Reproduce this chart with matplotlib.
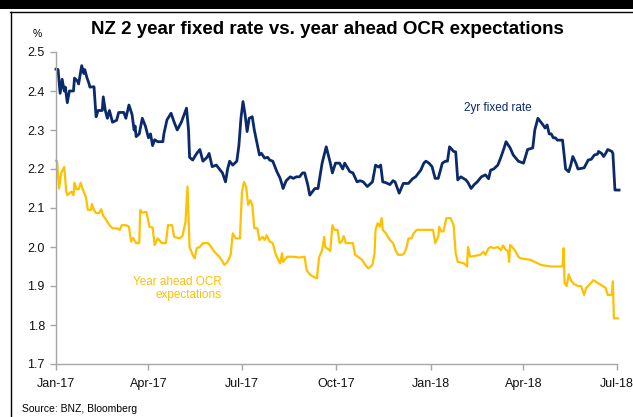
import numpy as np
import pandas as pd
import matplotlib
matplotlib.use("Agg")
import matplotlib.pyplot as plt
from matplotlib.lines import Line2D
from matplotlib.patches import Rectangle

plt.rcParams['font.family'] = ['Liberation Sans', 'DejaVu Sans']

# days since 1 Jan 2017
start = pd.Timestamp("2017-01-01")

fixed_days = [0, 2, 4, 6, 8, 9, 11, 13, 17, 18, 21, 22, 25, 27, 28, 30, 32, 33, 37, 39,
              41, 45, 46, 48, 50, 52, 55, 59, 61, 66, 68, 71, 74, 76, 77, 78, 81, 84, 87, 90,
              92, 94, 96, 99, 101, 104, 105, 108, 112, 115, 118, 122, 127, 129, 130, 133, 137, 140, 143, 147,
              149, 152, 156, 159, 162, 165, 167, 169, 172, 176, 178, 180, 182, 184, 186, 188, 191, 193, 195, 198,
              200, 203, 206, 208, 211, 215, 218, 220, 221, 224, 228, 231, 234, 237, 240, 242, 245, 247, 249, 252,
              255, 259, 263, 267, 269, 272, 276, 279, 281, 286, 289, 293, 296, 299, 303, 308, 311, 314, 316, 318,
              321, 325, 328, 330, 334, 338, 343, 347, 350, 355, 358, 360, 363, 366, 369, 372, 376, 379, 381, 383,
              387, 389, 391, 394, 399, 401, 404, 407, 410, 414, 418, 421, 423, 426, 430, 433, 436, 438, 440, 442,
              445, 450, 455, 459, 464, 466, 469, 472, 474, 476, 478, 480, 482, 484, 486, 488, 493, 496, 499, 501,
              503, 506, 508, 514, 518, 521, 524, 527, 528, 531, 533, 535, 537, 541, 542, 544, 548]
fixed_rate = [2.456, 2.455, 2.394, 2.43, 2.40, 2.41, 2.37, 2.40, 2.40, 2.433, 2.425, 2.418, 2.465, 2.445, 2.455, 2.435, 2.42, 2.41, 2.411, 2.334,
              2.35, 2.35, 2.385, 2.35, 2.33, 2.35, 2.32, 2.325, 2.345, 2.345, 2.33, 2.364, 2.34, 2.30, 2.31, 2.283, 2.29, 2.33, 2.31, 2.28,
              2.29, 2.26, 2.275, 2.27, 2.27, 2.27, 2.29, 2.326, 2.343, 2.32, 2.30, 2.32, 2.356, 2.30, 2.23, 2.223, 2.24, 2.25, 2.22, 2.23,
              2.24, 2.206, 2.21, 2.20, 2.19, 2.167, 2.20, 2.22, 2.21, 2.22, 2.26, 2.33, 2.373, 2.34, 2.296, 2.33, 2.334, 2.30, 2.274, 2.236,
              2.24, 2.228, 2.23, 2.223, 2.22, 2.193, 2.177, 2.16, 2.15, 2.17, 2.18, 2.176, 2.18, 2.18, 2.19, 2.19, 2.16, 2.133, 2.14, 2.15,
              2.15, 2.215, 2.257, 2.215, 2.19, 2.215, 2.215, 2.20, 2.215, 2.193, 2.19, 2.167, 2.17, 2.167, 2.155, 2.167, 2.21, 2.205, 2.21, 2.167,
              2.165, 2.16, 2.17, 2.167, 2.138, 2.163, 2.163, 2.175, 2.18, 2.197, 2.215, 2.22, 2.215, 2.206, 2.176, 2.176, 2.215, 2.22, 2.22, 2.257,
              2.245, 2.244, 2.172, 2.18, 2.172, 2.165, 2.15, 2.16, 2.167, 2.18, 2.185, 2.175, 2.197, 2.20, 2.21, 2.23, 2.253, 2.27, 2.262, 2.254,
              2.236, 2.22, 2.215, 2.25, 2.254, 2.30, 2.33, 2.32, 2.313, 2.305, 2.313, 2.29, 2.29, 2.28, 2.28, 2.274, 2.274, 2.20, 2.193, 2.21,
              2.232, 2.215, 2.20, 2.203, 2.223, 2.225, 2.236, 2.238, 2.245, 2.24, 2.232, 2.24, 2.25, 2.245, 2.24, 2.146, 2.146]

ocr_days = [0, 1, 3, 5, 8, 10, 11, 15, 17, 18, 20, 22, 24, 26, 29, 31, 34, 35, 37, 39,
            42, 44, 46, 49, 52, 55, 59, 62, 64, 68, 71, 73, 75, 78, 81, 82, 84, 88, 91, 94,
            96, 99, 103, 107, 109, 113, 115, 120, 123, 126, 128, 130, 133, 135, 137, 140, 143, 148, 151, 154,
            159, 164, 167, 170, 172, 175, 179, 181, 183, 185, 187, 189, 191, 193, 196, 198, 201, 203, 205, 208,
            211, 214, 218, 220, 221, 225, 231, 237, 242, 244, 247, 250, 254, 256, 259, 261, 262, 267, 269, 271,
            274, 276, 278, 280, 282, 289, 291, 294, 298, 301, 304, 308, 310, 311, 313, 315, 317, 318, 321, 325,
            328, 331, 333, 337, 339, 341, 343, 346, 348, 351, 367, 369, 372, 373, 375, 377, 380, 384, 387, 389,
            391, 397, 400, 401, 403, 413, 416, 418, 421, 423, 426, 430, 433, 435, 438, 440, 441, 442, 444, 447,
            450, 452, 462, 469, 472, 482, 493, 494, 495, 497, 499, 501, 504, 508, 511, 514, 516, 519, 523, 526,
            530, 535, 537, 541, 542, 543, 547]
ocr_rate = [2.221, 2.221, 2.15, 2.19, 2.205, 2.142, 2.133, 2.142, 2.133, 2.165, 2.148, 2.148, 2.165, 2.148, 2.129, 2.095, 2.095, 2.11, 2.095, 2.087,
            2.087, 2.097, 2.08, 2.069, 2.056, 2.048, 2.048, 2.044, 2.056, 2.056, 2.052, 2.014, 2.023, 2.01, 2.01, 2.095, 2.088, 2.09, 2.052, 2.05,
            2.005, 2.022, 2.01, 2.01, 2.056, 2.056, 2.026, 2.022, 2.028, 2.064, 2.155, 2.0, 1.98, 1.971, 1.997, 2.0, 2.01, 2.01, 2.0, 1.988,
            1.975, 1.954, 1.962, 1.98, 2.035, 2.022, 2.022, 2.142, 2.167, 2.155, 2.108, 2.12, 2.108, 2.048, 2.048, 2.018, 2.026, 2.018, 2.03, 2.014,
            2.01, 1.98, 1.958, 1.984, 1.962, 1.975, 1.975, 1.973, 1.975, 1.94, 1.93, 1.924, 1.92, 1.973, 1.992, 2.026, 2.0, 1.99, 2.056, 2.044,
            2.044, 2.01, 2.014, 2.028, 2.01, 2.01, 1.98, 1.975, 1.967, 1.954, 1.945, 1.954, 1.984, 2.044, 2.061, 2.052, 2.074, 2.044, 2.035, 2.018,
            2.01, 1.988, 1.98, 1.98, 1.984, 1.997, 2.022, 2.022, 2.035, 2.044, 2.044, 2.01, 2.026, 2.052, 2.04, 2.04, 2.074, 2.074, 2.056, 1.984,
            1.962, 1.958, 1.95, 2.0, 1.975, 1.98, 1.988, 1.98, 1.997, 2.0, 1.997, 2.0, 1.992, 2.004, 1.992, 1.99, 1.962, 2.005, 2.0, 1.99,
            1.975, 1.971, 1.967, 1.958, 1.954, 1.95, 1.95, 1.997, 1.907, 1.90, 1.93, 1.915, 1.905, 1.90, 1.90, 1.877, 1.895, 1.903, 1.915, 1.91,
            1.903, 1.895, 1.877, 1.877, 1.912, 1.817, 1.817]

tick_dates = ["2017-01-01", "2017-04-01", "2017-07-01", "2017-10-01",
              "2018-01-01", "2018-04-01", "2018-07-01"]
tick_labels = ["Jan-17", "Apr-17", "Jul-17", "Oct-17", "Jan-18", "Apr-18", "Jul-18"]
y_ticks = [1.7, 1.8, 1.9, 2.0, 2.1, 2.2, 2.3, 2.4, 2.5]

fixed_dates = start + pd.to_timedelta(fixed_days, unit="D")
ocr_dates = start + pd.to_timedelta(ocr_days, unit="D")

navy = "#0a2a6c"
gold = "#ffc000"
axis_grey = "#a6a6a6"

W, H = 633, 417
fig = plt.figure(figsize=(W / 100, H / 100), dpi=100)
ax = fig.add_axes([56 / W, 1 - 364 / H, (617 - 56) / W, (364 - 52) / H])

ax.plot(fixed_dates, fixed_rate, color=navy, lw=2.0, clip_on=False)
ax.plot(ocr_dates, ocr_rate, color=gold, lw=1.6, clip_on=False)

ax.set_ylim(1.7, 2.5)
ax.set_yticks(y_ticks)
ax.set_yticklabels(["%.1f" % v for v in y_ticks])
ax.set_xlim(pd.Timestamp(tick_dates[0]), pd.Timestamp(tick_dates[-1]))
ax.set_xticks(pd.to_datetime(tick_dates))
ax.set_xticklabels(tick_labels)

for s in ["top", "right"]:
    ax.spines[s].set_visible(False)
for s in ["left", "bottom"]:
    ax.spines[s].set_color(axis_grey)
    ax.spines[s].set_linewidth(1.0)
ax.tick_params(axis="both", direction="out", length=4, width=1, color=axis_grey,
               labelsize=9, labelcolor="#111111")
ax.tick_params(axis="x", pad=6)
ax.tick_params(axis="y", pad=4)

# series labels
ax.text(pd.Timestamp("2018-03-07"), 2.356, "2yr fixed rate", color=navy, fontsize=8.5,
        ha="center", va="center")
ax.text(pd.Timestamp("2017-06-11"), 1.893, "Year ahead OCR\nexpectations", color=gold,
        fontsize=8.5, ha="right", va="center", linespacing=1.1)

# title, unit, source
fig.text(327 / W, 1 - 30 / H, "NZ 2 year fixed rate vs. year ahead OCR expectations",
         fontsize=13.5, fontweight="bold", ha="center", va="center")
fig.text(37 / W, 1 - 34 / H, "%", fontsize=7.5, ha="center", va="center")
fig.text(22 / W, 1 - 409 / H, "Source: BNZ, Bloomberg", fontsize=7.5, ha="left", va="center")

# black band on top and the thin frame
fig.add_artist(Rectangle((0, 1 - 9 / H), 1, 9 / H, transform=fig.transFigure,
                         facecolor="black", edgecolor="none"))
fig.add_artist(Line2D([10 / W, 1], [1 - 11.5 / H, 1 - 11.5 / H], transform=fig.transFigure,
                      color="black", lw=1))
fig.add_artist(Line2D([10.5 / W, 10.5 / W], [0, 1 - 11.5 / H], transform=fig.transFigure,
                      color="black", lw=1))

fig.savefig("out.png", dpi=100)
